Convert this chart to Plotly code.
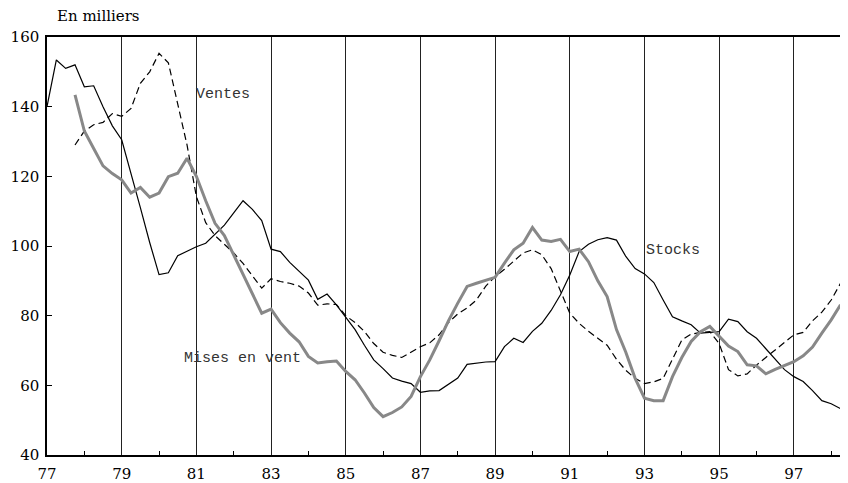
import plotly.graph_objects as go

# Quarterly data (year + quarter fraction)
stocks_start = 77.0
stocks = [140, 153.4, 151, 152, 145.7, 146, 140, 134.5, 130.5, 121, 111, 101,
          91.8, 92.3, 97.2, 98.5, 99.8, 100.8, 103.5, 106, 109.5, 113, 110.5, 107.3,
          99.1, 98.4, 95.3, 92.8, 90.2, 84.7, 86.2, 83.1, 79.5, 76, 71.5, 67.3,
          64.8, 62.1, 61.2, 60.5, 58, 58.4, 58.5, 60.3, 62.1, 66, 66.4, 66.7,
          66.8, 71.1, 73.5, 72.3, 75.5, 77.8, 81.5, 86, 91.7, 98.4, 100.5, 101.8,
          102.4, 101.7, 97, 93.5, 92, 89.5, 84.5, 79.7, 78.5, 77.4, 75, 75.2,
          75.4, 79, 78.3, 75.4, 73.5, 70.5, 67.5, 64.5, 62.5, 61.1, 58.5, 55.6,
          54.7, 53.3]

ventes_start = 77.75
ventes = [129, 133, 134.8, 135.5, 138, 137.2, 139.5, 146.7, 150, 155.3, 152.6, 141,
          129, 114.2, 106.7, 103, 100.5, 98, 95, 91.5, 87.9, 90.6, 89.8, 89.3,
          88.5, 86.5, 83, 83.4, 83.2, 80, 78, 75.5, 72, 69.5, 68.6, 68,
          69.5, 71.1, 72.2, 74.5, 78, 80.5, 82.2, 84.5, 88.5, 91.2, 93.3, 95.6,
          98, 98.9, 97.5, 93.5, 87, 80.7, 77.8, 75.5, 73.5, 71.5, 67.5, 64.3,
          62, 60.5, 61, 62, 67.5, 73, 74.7, 75.2, 75.4, 72, 64.5, 62.7,
          63.3, 65.8, 68, 70.2, 72.5, 74.5, 75.2, 78.5, 81, 84.5, 89.3]

mises_start = 77.75
mises = [143.4, 133, 128, 123, 120.8, 119, 115.2, 116.8, 114, 115.2, 119.9, 120.9,
         125.2, 120, 113, 106.5, 103, 97.5, 92, 86.5, 80.7, 81.9, 78, 75,
         72.5, 68.3, 66.4, 66.8, 67, 64, 61.6, 57.8, 53.6, 51, 52.2, 53.8,
         56.8, 62.5, 67.3, 72.8, 78.5, 83.6, 88.4, 89.3, 90.2, 91, 95.1, 98.9,
         100.8, 105.3, 101.7, 101.3, 101.9, 98.4, 99.1, 95.5, 90, 85.5, 76, 69.5,
         62, 56.3, 55.6, 55.6, 62.5, 68, 72.6, 75.4, 76.9, 74, 71.3, 69.7,
         65.9, 65.6, 63.3, 64.6, 65.8, 66.8, 68.5, 71, 75, 78.8, 83.1]

x_tickvals = [77, 79, 81, 83, 85, 87, 89, 91, 93, 95, 97]
x_ticktext = ["77", "79", "81", "83", "85", "87", "89", "91", "93", "95", "97"]
y_tickvals = [40, 60, 80, 100, 120, 140, 160]


def qx(start, n):
    return [start + 0.25 * i for i in range(n)]


fig = go.Figure()
fig.add_trace(go.Scatter(x=qx(stocks_start, len(stocks)), y=stocks, mode="lines",
                         line=dict(color="black", width=1.2), name="Stocks"))
fig.add_trace(go.Scatter(x=qx(ventes_start, len(ventes)), y=ventes, mode="lines",
                         line=dict(color="black", width=1.2, dash="7px,4px"), name="Ventes"))
fig.add_trace(go.Scatter(x=qx(mises_start, len(mises)), y=mises, mode="lines",
                         line=dict(color="#888888", width=3), name="Mises en vente"))

mono = dict(family="Liberation Mono, Courier New, monospace", size=15, color="#333333")
fig.add_annotation(x=80.94, y=143.6, text="Ventes", showarrow=False, xanchor="left",
                   yanchor="middle", font=mono)
fig.add_annotation(x=93.0, y=98.6, text="Stocks", showarrow=False, xanchor="left",
                   yanchor="middle", font=mono)
fig.add_annotation(x=80.61, y=67.6, text="Mises en vent", showarrow=False, xanchor="left",
                   yanchor="middle", font=mono)

serif = dict(family="DejaVu Serif, Liberation Serif, serif", size=15, color="black")
fig.add_annotation(xref="paper", yref="paper", x=0.01, y=1.0, yshift=10,
                   text="En milliers", showarrow=False, xanchor="left", yanchor="bottom",
                   font=serif)

# page body has an 8px default margin: size the figure so the plot lands where the reference's is
fig.update_layout(
    width=840, height=475,
    margin=dict(l=39, r=0, t=29, b=28),
    paper_bgcolor="white", plot_bgcolor="white",
    showlegend=False,
    font=serif,
    xaxis=dict(range=[77, 98.45], tickvals=x_tickvals, ticktext=x_ticktext,
               showgrid=True, gridcolor="#222222", gridwidth=1.3,
               showline=True, linecolor="black", linewidth=1.5, mirror=True,
               ticks="", zeroline=False, tickfont=serif, ticklabelstandoff=4,
               minor=dict(tick0=78, dtick=2, ticks="inside", ticklen=4,
                          tickcolor="black", tickwidth=1, showgrid=False)),
    yaxis=dict(range=[40, 160], tickvals=y_tickvals, showgrid=False,
               showline=True, linecolor="black", linewidth=1.5,
               ticks="inside", ticklen=5, tickcolor="black", zeroline=False,
               tickfont=serif, ticklabelstandoff=3),
)

fig.write_html("out.html")
